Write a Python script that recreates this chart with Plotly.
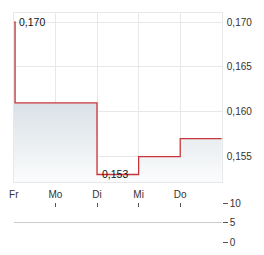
import plotly.graph_objects as go

# data
day_labels = ["Fr", "Mo", "Di", "Mi", "Do"]
day_pos = [0, 1, 2, 3, 4]
price_x = [0, 0.03, 2, 3, 4, 5]
price_y = [0.170, 0.161, 0.153, 0.155, 0.157, 0.157]
price_ticks = [0.155, 0.160, 0.165, 0.170]
vol_ticks = [0, 5, 10]
hi_label = "0,170"
lo_label = "0,153"

W, H = 264, 255
def fx(px):
    return px / W
def fy(py):
    return 1 - py / H

fig = go.Figure()
fig.add_trace(go.Scatter(
    x=price_x, y=price_y, mode="lines", line=dict(color="#c9343a", width=1.3, shape="hv"),
    fill="tozeroy",
    fillgradient=dict(type="vertical", colorscale=[[0, "#ffffff"], [1, "#dce3e8"]],
                      start=0.152, stop=0.161),
    xaxis="x", yaxis="y", hoverinfo="skip", showlegend=False))
fig.add_trace(go.Scatter(x=[0, 5], y=[None, None], mode="lines", xaxis="x2", yaxis="y2",
                         showlegend=False, hoverinfo="skip"))

font = dict(family="Liberation Sans, Arial, sans-serif", size=10, color="#333333")
fig.update_layout(
    width=W, height=H, margin=dict(l=0, r=0, t=0, b=0),
    paper_bgcolor="white", plot_bgcolor="white",
    separators=",.", font=font, showlegend=False,
    xaxis=dict(domain=[fx(9), fx(221)], range=[0, 5], tickvals=day_pos, ticktext=day_labels,
               showgrid=True, gridcolor="#e8e8e8", gridwidth=1, zeroline=False,
               ticks="", showline=True, linecolor="#e8e8e8", mirror=True,
               ticklabelstandoff=3,
               tickfont=dict(size=10, color="#333333"), anchor="y"),
    yaxis=dict(domain=[fy(185), fy(7)], range=[0.15213, 0.17106], side="right",
               tickvals=price_ticks, tickformat=".3f", showgrid=True, gridcolor="#e8e8e8",
               zeroline=False, ticks="", showline=True, linecolor="#e8e8e8", mirror=True,
               ticklabelstandoff=2,
               tickfont=dict(size=10, color="#333333"), anchor="x"),
    xaxis2=dict(domain=[fx(9), fx(221)], range=[0, 5], tickvals=day_pos, showticklabels=False,
                side="top", ticks="inside", ticklen=4, tickcolor="#555555", showgrid=False,
                zeroline=False, showline=False, anchor="y2"),
    yaxis2=dict(domain=[fy(248), fy(207)], range=[0, 10], side="right", tickvals=vol_ticks,
                ticks="outside", ticklen=5, tickcolor="#555555", showgrid=True,
                gridcolor="#cccccc", zeroline=False, showline=False,
                tickfont=dict(size=10, color="#333333"), anchor="x2"),
    annotations=[
        dict(x=0, y=0.170, xref="x", yref="y", text=hi_label, showarrow=False,
             xanchor="left", yanchor="middle", xshift=3, font=dict(size=10.5, color="#111111")),
        dict(x=2, y=0.153, xref="x", yref="y", text=lo_label, showarrow=False,
             xanchor="left", yanchor="middle", xshift=3, yshift=1, font=dict(size=10.5, color="#111111")),
    ],
)
fig.write_html("out.html")
